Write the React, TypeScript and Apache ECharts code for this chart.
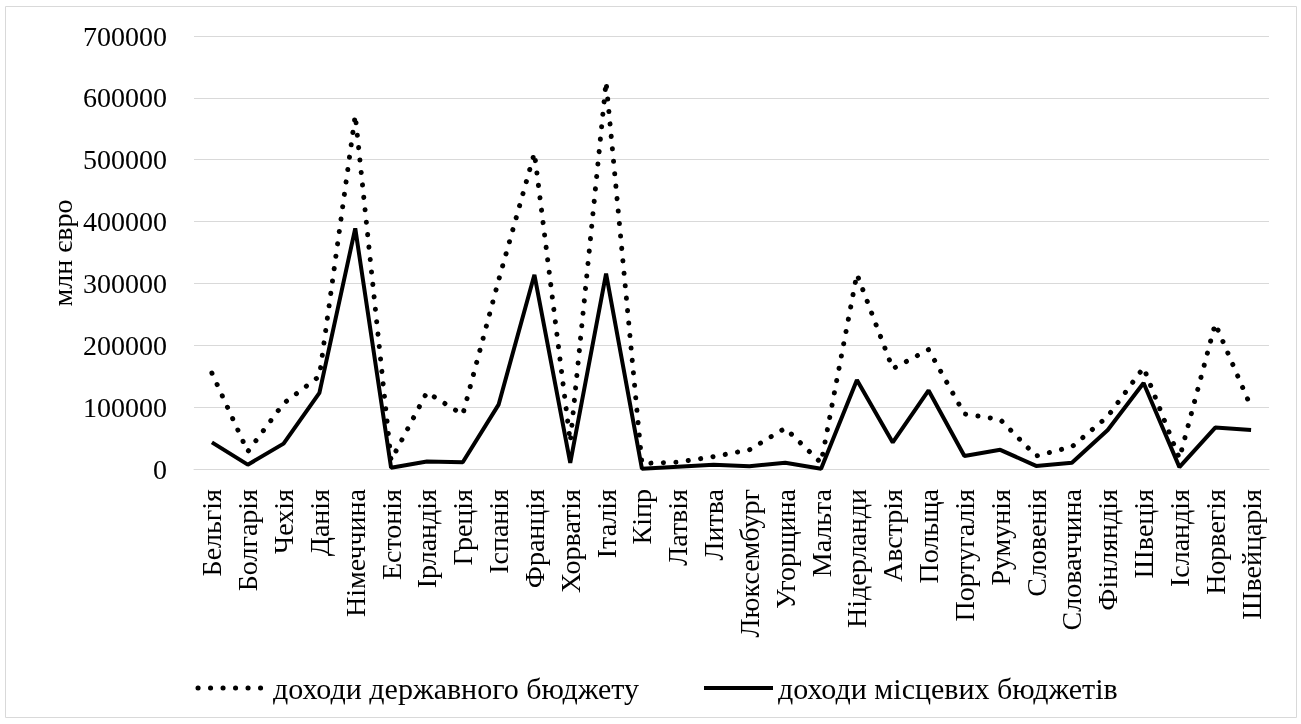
import React, { useEffect, useRef } from "react";
import * as echarts from "echarts";

// Countries along the category axis
const countries: string[] = [
  "Бельгія", "Болгарія", "Чехія", "Данія", "Німеччина", "Естонія", "Ірландія",
  "Греція", "Іспанія", "Франція", "Хорватія", "Італія", "Кіпр", "Латвія",
  "Литва", "Люксембург", "Угорщина", "Мальта", "Нідерланди", "Австрія",
  "Польща", "Португалія", "Румунія", "Словенія", "Словаччина", "Фінляндія",
  "Швеція", "Ісландія", "Норвегія", "Швейцарія",
];

// Revenues of the state budget, mln euro
const stateRevenue: number[] = [
  155000, 28000, 106000, 150000, 572000, 14000, 124000,
  88000, 305000, 511000, 44000, 626000, 9000, 11000,
  20000, 31000, 66000, 10000, 315000, 162000,
  193000, 89000, 80000, 21000, 36000, 85000,
  164000, 17000, 235000, 100000,
];

// Revenues of local budgets, mln euro
const localRevenue: number[] = [
  43000, 7000, 41000, 123000, 389000, 2000, 12000,
  11000, 104000, 314000, 10000, 316000, 500, 3500,
  7000, 4500, 10000, 500, 144000, 43000,
  127000, 21000, 31000, 5000, 10000, 63000,
  139000, 3000, 67000, 63000,
];

const seriesNames: string[] = ["доходи державного бюджету", "доходи місцевих бюджетів"];
const axisTitle = "млн євро";

const FONT = "Liberation Serif";
const DOTTED: number[] = [0.1, 12.4];

export default function App() {
  const ref = useRef<HTMLDivElement>(null);

  useEffect(() => {
    if (!ref.current) return;
    const chart = echarts.init(ref.current, undefined, { renderer: "svg" });

    const legendY = 688;
    const legendText = (x: number, text: string) => ({
      type: "text",
      silent: true,
      x,
      y: legendY,
      style: {
        text,
        fontFamily: "Times New Roman",
        fontSize: 30,
        fill: "#000",
        align: "left",
        verticalAlign: "middle",
      },
    });

    chart.setOption({
      animation: false,
      grid: { left: 194, right: 32, top: 36, bottom: 255, containLabel: false },
      graphic: [
        // outer chart frame
        {
          type: "rect",
          silent: true,
          shape: { x: 5.5, y: 6.5, width: 1291, height: 711 },
          style: { fill: "none", stroke: "#d9d9d9", lineWidth: 1 },
        },
        // value axis title
        {
          type: "text",
          silent: true,
          x: 62,
          y: 253,
          rotation: Math.PI / 2,
          style: {
            text: axisTitle,
            fontFamily: "serif",
            fontSize: 28,
            fill: "#000",
            align: "center",
            verticalAlign: "middle",
          },
        },
        // legend: dotted sample + label, solid sample + label
        {
          type: "line",
          silent: true,
          shape: { x1: 198, y1: legendY, x2: 264, y2: legendY },
          style: { stroke: "#000", lineWidth: 5, lineDash: DOTTED, lineCap: "round" },
        },
        legendText(273, seriesNames[0]),
        {
          type: "line",
          silent: true,
          shape: { x1: 704, y1: legendY, x2: 773, y2: legendY },
          style: { stroke: "#000", lineWidth: 4 },
        },
        legendText(778, seriesNames[1]),
        // blank spacer in the frame corner
        {
          type: "text",
          silent: true,
          x: 1285,
          y: 705,
          style: { text: " ", fontFamily: "DejaVu Serif", fontSize: 10, fill: "#fff" },
        },
      ],
      xAxis: {
        type: "category",
        data: countries,
        boundaryGap: true,
        axisLine: { show: true, lineStyle: { color: "#d9d9d9", width: 1 } },
        axisTick: { show: false },
        axisLabel: {
          rotate: 90,
          interval: 0,
          margin: 20,
          fontFamily: FONT,
          fontSize: 28,
          color: "#000",
        },
      },
      yAxis: {
        type: "value",
        min: 0,
        max: 700000,
        interval: 100000,
        axisLine: { show: false },
        axisTick: { show: false },
        axisLabel: {
          margin: 27,
          fontFamily: FONT,
          fontSize: 28,
          color: "#000",
          formatter: (v: number) => String(v),
        },
        splitLine: { show: true, lineStyle: { color: "#d9d9d9", width: 1 } },
      },
      series: [
        {
          name: seriesNames[0],
          type: "line",
          data: stateRevenue,
          symbol: "none",
          lineStyle: { color: "#000", width: 5, type: DOTTED, cap: "round" },
          itemStyle: { color: "#000" },
        },
        {
          name: seriesNames[1],
          type: "line",
          data: localRevenue,
          symbol: "none",
          lineStyle: { color: "#000", width: 4, type: "solid" },
          itemStyle: { color: "#000" },
        },
      ],
    });
    return () => chart.dispose();
  }, []);

  return (
    <div
      ref={ref}
      style={{ position: "fixed", left: 0, top: 0, width: 1301, height: 724, fontFamily: "Liberation Serif, serif" }}
    />
  );
}
